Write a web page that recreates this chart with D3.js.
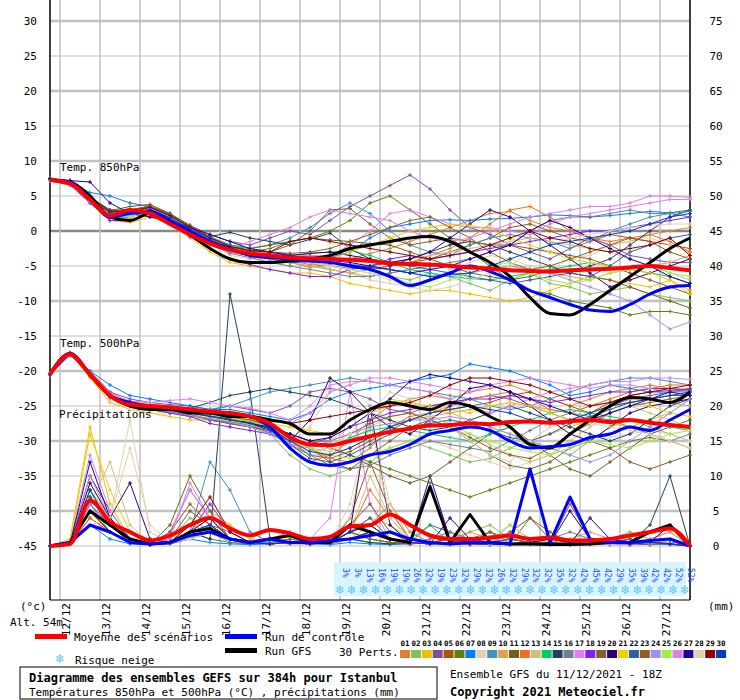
<!DOCTYPE html>
<html><head><meta charset="utf-8">
<script src="https://cdn.jsdelivr.net/npm/d3@7"></script>
<style>body{margin:0;background:#fff}text{font-family:"DejaVu Sans Mono",monospace}</style>
</head><body>
<script>
// GEFS ensemble, Istanbul, run 11/12/2021 18Z - values every 12h (0..384h)
const hours = d3.range(0, 385, 12);
const days = ["12/12","13/12","14/12","15/12","16/12","17/12","18/12","19/12","20/12","21/12","22/12","23/12","24/12","25/12","26/12","27/12"];
const memberColors = ["#e08030","#80c060","#f0c000","#8050a0","#b05010","#608010","#0080ff","#e0d0b0","#4090c0","#e0a050","#706020","#f07020","#d0c080","#00d060","#204060","#708090","#e080f0","#8020f0","#806030","#300070","#f0d000","#3060a0","#906020","#a090f0","#a0f040","#e080e0","#2000a0","#e0d0b0","#900000","#0040c0"];

const meanT850 = [7.3,6.8,4.5,2.2,3.0,2.5,1.0,-0.5,-1.8,-2.7,-3.2,-3.5,-3.8,-3.9,-4.0,-4.1,-4.3,-4.6,-4.7,-4.8,-5.0,-5.2,-5.4,-5.6,-5.7,-5.8,-5.6,-5.5,-5.4,-5.2,-5.0,-5.3,-5.6];
const ctrlT850 = [7.3,7.0,4.5,2.0,2.5,2.8,1.5,0,-1.5,-2.5,-3.5,-3.8,-4.0,-4.3,-4.5,-5.0,-5.5,-6.5,-7.8,-7.0,-6.0,-5.0,-5.8,-7.0,-8.5,-9.5,-10.5,-11.3,-11.5,-10.5,-9.0,-8.0,-7.8];
const gfsT850 = [7.3,7.0,5.0,2.0,1.5,2.5,1.5,-0.5,-2.5,-4.0,-4.5,-4.5,-4.3,-4.0,-3.5,-2.5,-2.0,-1.5,-1.0,-0.8,-1.5,-3.0,-4.5,-6.5,-9.5,-11.8,-12.0,-10.5,-8.5,-6.5,-4.5,-2.5,-1.0];
const meanT500 = [-20.5,-17.6,-20.5,-23.5,-24.8,-25.0,-25.2,-25.5,-25.8,-26.0,-26.5,-27.5,-29.5,-30.5,-30.6,-30.0,-29.3,-28.7,-28.2,-27.8,-27.7,-27.5,-27.6,-27.3,-27.2,-27.4,-27.2,-27.0,-27.3,-27.0,-27.4,-27.7,-28.0];
const ctrlT500 = [-20.5,-17.5,-20.5,-23.5,-24.5,-25.0,-25.2,-25.5,-25.8,-26.0,-26.5,-28.0,-31.0,-33.0,-33.5,-33.0,-32.0,-31.5,-30.5,-29.0,-28.5,-28.0,-28.5,-30.0,-31.0,-30.8,-30.5,-29.5,-29.0,-28.0,-28.5,-27.0,-25.5];
const gfsT500 = [-20.5,-17.5,-20.5,-23.5,-25,-25.5,-25.5,-26,-26,-26.5,-26.5,-27,-27.5,-29,-29,-27,-25.5,-24.5,-25,-25.5,-24.5,-25,-26.5,-28,-30.5,-31,-29,-27,-25,-23.8,-24,-24.5,-23];
const meanPrec = [0,0.3,6.5,3.5,2.0,0.8,1.5,3.0,4.0,2.5,1.5,2.3,1.8,1.0,1.3,2.8,3.0,4.5,3.0,1.5,1.0,1.0,1.2,1.5,1.0,1.2,0.8,0.8,1.0,1.5,2.0,2.5,0];
const ctrlPrec = [0,0.5,3,2,0.5,0.3,0.5,1.5,2,1,0.5,1,0.5,0.5,0.8,1.0,1.5,2.0,1.0,0.5,0.3,0.5,0.5,0.3,11,0.5,7,1,0.5,0.5,0.8,1,0];
const gfsPrec = [0,0.5,5,3,1,0.3,0.5,2,2.5,1,0.5,1,1.5,0.5,0.5,3,2,1,0.5,8.5,0.5,4.5,0.5,0.3,0.3,0.2,0.2,0.3,0.5,0.5,2,3,0];

const membersT850 = [
"7.4 6.8 4.2 2.5 2.8 3.2 1.8 0.2 -1.5 -2.8 -3.5 -3.8 -4.5 -5.2 -4.8 -4 -3.2 -2.5 -1.5 -0.5 0.5 1.5 2.5 2.8 1.5 0.5 0 -1 -2 -1.5 -0.5 0 0.5",
"7.2 6.5 4.8 2.2 2 2.8 1.5 0 -1.8 -3 -3.2 -3.6 -4 -4.5 -5.5 -6 -5.5 -6.5 -7 -6 -6.5 -7.5 -8.5 -7 -6 -7.5 -8 -9 -8.5 -8 -9 -9.5 -10",
"7.5 7 4 1.5 1.2 2 1 -1 -3 -4.5 -5 -5.5 -6 -6 -6.5 -7.5 -8 -8.5 -9 -8.5 -8.5 -9 -9.5 -10 -9.5 -8.5 -7.5 -6.5 -7 -7.5 -8 -7 -8.5",
"7.3 7 4.8 3 2.8 3.5 2.2 0.8 -0.5 -1.5 -2 -1 0 -0.5 1.5 3.5 5 6.5 8 6 3 0.5 -0.5 -2 -3 -4 -2.5 -1 -2 -3.5 -4 -4.5 -4.5",
"7.4 6.8 4.4 2.6 2.6 3 2 0.4 -1 -2.2 -3 -3.4 -3.8 -4 -4.5 -5 -5.5 -5 -4.5 -4 -3 -2 -1 0.5 1 0 -1 -1.5 -0.5 -1 -1.5 -2 -2.5",
"7.5 7.2 4.6 2.8 3 3.4 2.4 0.6 -1.2 -2.4 -3 -2.5 -1.5 -1 0 1.5 4 5 3 1 -1 -3 -5 -7 -8.5 -9 -10 -10.5 -11 -12 -11.5 -11.5 -12",
"7.2 6.9 5.5 5 4 3.5 2.5 0.5 -1 -2 -2.8 -3 -3.3 -3.5 -3.8 -3 -1 0.5 1 1.5 1.6 1.5 1.7 1.8 2 2.3 2.2 2 2.2 2.5 2.8 2.6 3",
"7.2 6.6 4 2 1.8 2.5 1.2 -0.5 -2 -3.5 -4 -4.2 -4.5 -5 -5.5 -6 -7 -7.5 -8 -7 -5.5 -4.5 -3.5 -4 -5 -5.5 -4 -3.5 -2 -1.5 -1 -2 -3",
"7.6 7.1 4.9 3 2.7 3.3 2.1 0.5 -0.8 -2 -2.5 -2 -1 0.5 2.5 4 2.5 0 -2 -3 -3.5 -2 -1 -0.5 -1 -1.5 -2.5 -1.5 0 1 2 2.5 2",
"7.3 6.7 4.3 2.3 2.2 2.9 1.6 0 -1.5 -2.8 -3.3 -4 -4.5 -5 -5.5 -6 -6.5 -6 -5.5 -5 -4.8 -5 -5.5 -5 -5.5 -6 -6.5 -7 -6 -5.5 -5 -4.5 -3.5",
"7.5 7 4.7 2.9 3.5 3.8 2.5 0.8 -1 -2 -2.5 -2 -1.5 -1 -1.3 -1.5 -1.8 -2 -3 -4 -5 -6 -6.5 -7 -6.5 -5.5 -6 -6.5 -7 -8 -9 -10 -11",
"7.2 6.6 4.5 2.7 2.4 3 1.8 0.3 -1.2 -2.6 -3.4 -3.8 -4.2 -4.8 -5 -5.3 -5.5 -5 -4.5 -3.5 -2.5 -1 1 3 3.5 2 0 -1 -1.5 -1 -0.5 -1.5 -3",
"7.3 6.8 4.4 2.4 2.3 3 1.7 0.1 -1.4 -2.7 -3.2 -3.6 -4 -4.4 -4.6 -4.8 -5 -4.5 -4 -3.5 -3 -2.5 -2 -1.5 -1 -1.5 -2 -2.5 -3 -4 -5 -6 -7",
"7.4 6.9 4.6 2.7 2.6 3.1 2 0.4 -1 -2 -2.5 -3 -3.5 -3.2 -3 -2.8 -3.5 -4.5 -5.5 -6 -6.5 -6.8 -7 -6.5 -6 -5.5 -5 -4.5 -5 -5.5 -6 -6.5 -7.5",
"7.5 7.2 4.8 2.9 2.8 3.3 2.2 0.6 -0.8 -0.2 -1 -1.5 -2 -1.2 -0.3 -2.5 -4 -5 -4 -3 -2 -1.5 -2 -3 -4 -5 -6 -5 -4 -2 0 2 3",
"7.3 6.7 4.3 2.4 2.2 2.8 1.6 -0.2 -1.8 -3.2 -3.8 -4.5 -5 -5.5 -6 -6.5 -6.5 -6 -5.5 -5 -4.5 -4 -3 -2 0 1.5 2 2 2.5 3 2.5 2.5 2.8",
"7.4 6.9 4.6 2.6 2.5 3.2 1.9 0.3 -1.1 -2.4 -3 -3.2 -3.4 -3.5 -3.6 -2 0 2.5 3 2 1 0.5 0.5 0 -0.5 1 2 2.5 3 3.5 4 4.5 4.5",
"7.2 6.6 4 1.5 1.5 2.5 1.2 -0.8 -2.5 -4 -4.8 -5.5 -6 -6.5 -6.5 -5.5 -5 -4 -3.5 -4 -3.5 -3 -2.5 -2 -1.5 -1 -0.5 0 0 0.5 1 1.5 2",
"7.5 7.1 4.8 3 3 3.6 2.4 0.7 -0.9 -2.2 -2.8 -3 -2 0 3 3.2 1 -1 -2 -1.5 -1 -1.5 -2 -2 -2.5 -3 -3.5 -4 -5 -6 -7 -8 -9",
"7.4 7 4.5 2.5 2.5 3.1 1.9 0.3 -1.2 -2.5 -3.1 -3.4 -3.5 -3.2 -3 -3.5 -4 -4.5 -4 -3 -1 1 3 2 0 -2 -4 -6 -8 -7 -6 -5 -4",
"7.3 6.8 4.5 2.6 2.4 3 1.8 0.2 -1.3 -2.6 -3.2 -3.5 -3.8 -4 -4 -3 -2 -1 0 0.5 1 0.8 0.3 -1 -2 -3 -4 -4.5 -5 -5.5 -6 -7 -9",
"7.5 7 4.5 2 2 3 1.5 0 -1.5 -3 -3.5 -4 -4.5 -4.5 -5 -5.5 -5 -4.5 -5 -5.5 -6 -6.5 -7 -7.5 -7 -6.5 -6 -6.5 -5 -3 -2 -1 -0.5",
"7.4 6.9 4.6 2.8 3 3.5 2.2 0.5 -1 -2.3 -2.8 -3 -3.2 -3 -2.5 -1.5 -0.5 0.5 1.5 2 0.5 -1 -3 -4.5 -5.5 -5 -4 -3 -2 -1 -1.5 -3 -4",
"7.3 6.7 4.2 2.2 2 2.7 1.4 -0.3 -1.8 -3 -3.5 -3.8 -4 -4.2 -4.5 -4.8 -5 -5.5 -6 -6.5 -6.5 -6 -5.5 -5 -5.5 -6 -7 -8 -9 -10 -12 -14 -13",
"7.5 7 4.8 2.5 2 2.8 1.8 0.2 -1.3 -2.5 -3 -3.5 -4 -4.5 -5 -5.5 -6 -6.5 -7.5 -8 -7 -6 -5 -4.5 -6 -7 -7.5 -7 -6 -5.5 -5 -6 -6.5",
"7.4 6.9 4.6 2.7 2.6 3.2 2 0.4 -1.1 -2.4 -1.5 -0.5 0.5 2 3 2.5 2 1.5 0 -1 -1.5 -1 0 1 2 2.5 3 3.5 3.5 4 5 5 4.8",
"7.4 7.2 7 4 2.5 2 1.5 0.5 -0.5 -1.5 -2.5 -3 -3.5 -4 -4.2 -4.5 -5 -5.5 -6 -5.5 -5 -4 -3 -2 0 1.5 0.5 -1 -2.5 -4 -5 -6.5 -7.5",
"7.3 6.8 4.4 2.4 2.2 3 1.7 0.1 -1.4 -2.7 -3.3 -3.8 -4.3 -4.5 -5 -5.5 -6 -7 -8 -8.5 -8 -7 -6 -5 -3 -2 -1 -0.5 0 0.5 0.8 1 1",
"7.5 7 4.7 2.8 2.8 3.4 2.2 0.5 -1 -2.2 -2.8 -3 -1.5 -1 -1.5 -2 -2.5 -3 -3.5 -4 -3.5 -3 -2 -1 0 -1 -1.5 -2.5 -3 -2.5 -2 -1 -3.5",
"7.4 7 4.5 2.6 2.5 3.1 1.9 0.3 -1.2 -2.5 -3.1 -3.5 -3.8 -4.2 -4.5 -4.8 -5.2 -5.5 -6 -6.5 -6.2 -6 -5 -4 -3 -2 -1.5 -1 -0.5 0 1 2 2.5"];

const membersT500 = [
"-20.4 -17.6 -20 -23 -24.5 -25 -25.2 -25.8 -26 -26.5 -27 -28 -31 -33 -32 -30 -27 -25 -24 -23.5 -24 -23 -22.5 -22 -23 -24 -25 -24 -23 -22.5 -22 -22.5 -23",
"-20.6 -17.4 -20.8 -24 -25 -25.5 -25.8 -26 -26.5 -27 -27.5 -29 -32 -34 -35 -34 -33 -31 -30 -31 -32 -33 -32.5 -31 -30 -31 -32 -30 -28 -27 -28 -29 -30",
"-20.5 -17.5 -21 -24.5 -25.5 -26 -26.5 -27 -27 -27.5 -28 -28.5 -30 -31 -30 -28 -26 -25 -24.5 -25.5 -26 -27 -28 -29 -30 -29 -28 -27 -27.5 -28 -27 -26 -24",
"-20.3 -17.6 -20.2 -23 -24 -24.5 -24.8 -25 -25.5 -25 -25.5 -26 -25 -23 -22.5 -23 -24 -25.5 -26 -25 -24.5 -24 -23.5 -24 -25 -26 -27 -26 -25 -24 -23.5 -23 -22.5",
"-20.5 -17.5 -20.6 -23.6 -24.8 -25.2 -25.5 -26 -26.3 -26.8 -27.2 -28 -30 -32 -32.5 -31.5 -30 -28.5 -27 -26 -25.5 -25 -24.5 -23.5 -23 -24 -25 -26 -24.5 -23.5 -23 -22.8 -22.5",
"-20.5 -17.5 -20.5 -23.8 -25 -25.5 -26 -26.5 -27 -27.3 -27.6 -28 -29 -30 -31 -32 -33 -34 -35 -36 -37 -38 -37 -36 -35 -34 -33 -32 -31 -30 -29.5 -30 -31",
"-20.5 -17.8 -20 -22 -23.5 -24 -24.5 -25 -25.5 -25.5 -26 -26.5 -27 -26 -24 -23 -22.5 -22 -21.5 -21 -20.5 -19 -19.5 -20 -21 -22 -23.5 -23 -22 -22.5 -23 -23 -22.8",
"-20.4 -17.4 -20.5 -24 -25.5 -26 -26 -26.5 -27 -27.5 -28 -29 -31 -28 -23 -22 -25 -27 -29 -30 -31 -32 -33 -34 -33 -32 -31 -30 -29.5 -29 -28.5 -29 -30",
"-20.5 -17.5 -20.5 -23.5 -24.5 -25 -25.5 -26 -25.5 -25 -24 -23 -22.5 -22 -21.5 -21 -21.5 -22 -22.5 -23 -23.5 -24 -25 -25.5 -25 -24 -23 -22 -21.5 -21 -21 -21.5 -22",
"-20.6 -17.6 -20.4 -23.4 -24.6 -25.2 -25.6 -26 -26.4 -26.8 -27.4 -28.5 -30.5 -32 -32 -31 -29.5 -28 -27 -26.5 -26 -25.5 -25 -24.5 -25 -25.5 -26 -25 -24.5 -24 -24 -24.5 -25",
"-20.5 -17.4 -20.6 -23.6 -24.8 -25.3 -25.7 -26.2 -27 -27.5 -28 -28.5 -29 -30 -31 -32 -33.5 -35 -36 -35 -33 -31 -29 -28 -30 -32 -34 -35 -33 -31 -29 -28 -27",
"-20.4 -17.6 -20.4 -23.4 -24.6 -25 -25.3 -25.8 -26.2 -26.6 -27 -28 -29.5 -31 -32.5 -33 -31 -28 -26.5 -26 -25 -24 -23.5 -23 -24 -25.5 -26 -25 -24 -23 -22.5 -22 -22",
"-20.5 -17.5 -20.5 -23.5 -24.5 -25 -25.4 -25.8 -26.2 -26.7 -27.2 -28 -29.5 -31 -31.5 -30 -28 -26.5 -26 -26.5 -27.5 -29 -30.5 -32 -33 -32 -30 -28 -26 -25 -26 -27 -28",
"-20.5 -17.5 -20.5 -23.5 -24.6 -25.1 -25.5 -25.9 -26.3 -26.8 -27.3 -28.2 -30 -31.5 -31 -29.5 -28.5 -28 -28.5 -29 -29.5 -30 -29 -28 -27 -26 -25.5 -26 -26.5 -27 -27.5 -28 -28.5",
"-20.5 -17.5 -20.5 -23.5 -24.5 -24.8 -25 -25.3 -24.5 -23.5 -23 -22.5 -23 -23.5 -24 -25 -26 -27 -28 -28.5 -28 -27 -26 -25 -26 -27 -28 -29 -30 -29 -27 -25 -24",
"-20.5 -17.5 -20.5 -23.5 -24.7 -25.3 -25.8 -26.4 -26.8 -27.2 -27.8 -28.8 -30.5 -32 -33.5 -34 -33.5 -32 -31 -30 -30.5 -31 -31.5 -30 -28.5 -27 -26 -26.5 -27 -28 -29 -30 -29",
"-20.4 -17.6 -20.3 -23.2 -24.3 -24.5 -24.2 -24 -24.5 -25 -25.3 -26 -27 -25 -22 -21.5 -21.5 -22 -22.5 -23 -24 -25 -26 -25 -24 -23 -22.5 -22 -21.5 -21.5 -21 -21 -21.2",
"-20.5 -17.5 -20.7 -23.8 -25 -25.5 -26 -26.5 -27.5 -28 -28.5 -29 -30 -30.5 -29.5 -28 -27 -26 -25.5 -25 -24.5 -24 -24 -23.5 -24 -24.5 -24 -23.5 -23 -23 -22.5 -22.5 -22.7",
"-20.5 -17.5 -20.5 -23.5 -24.5 -25 -25.5 -26 -27 -27.5 -28 -28.5 -29 -31 -33 -34 -32 -30 -28 -27 -28 -30 -32 -33.5 -34 -33 -31 -30 -31 -33 -34 -33 -32",
"-20.5 -17.5 -20.5 -23.5 -24.6 -25.1 -25.5 -26 -26.4 -26.9 -27.4 -28.3 -30 -27 -21 -23 -26 -28 -29 -27 -25 -22.5 -22 -23 -25 -27 -29 -30 -28 -26 -25 -24.5 -24",
"-20.5 -17.5 -20.5 -23.5 -24.5 -25 -25.5 -26 -26.5 -27 -27 -27.5 -28 -28.5 -29 -27 -25.5 -24 -24.5 -25 -25.5 -26 -25 -24.5 -25 -26 -27 -26 -25 -24.5 -25 -26 -26.5",
"-20.5 -17.5 -20.5 -23.5 -24.6 -25.2 -25.6 -26 -26.5 -27 -27.5 -28.5 -30.5 -32.5 -33 -32 -30.5 -29 -28 -27.5 -27 -27.5 -28.5 -29.5 -30 -29 -27.5 -26.5 -25.5 -24.5 -24 -23.5 -23.5",
"-20.5 -17.5 -20.5 -23.5 -24.5 -25 -25.4 -25.8 -26.2 -26.6 -27 -27.8 -29 -30 -30 -29 -27.5 -26.5 -26 -27 -28 -29.5 -31 -32 -32.5 -31 -29 -27.5 -26 -25 -24.5 -24 -23.5",
"-20.5 -17.5 -20.5 -23.5 -24.7 -25.2 -25.7 -26.3 -26.8 -27.3 -28 -29 -30.5 -31 -30 -29 -28 -27.5 -27 -27 -26.5 -27 -28 -29 -30 -31 -32 -33 -32 -30 -28 -26 -24",
"-20.5 -17.5 -20.5 -23.5 -24.5 -25 -25.5 -26 -26.3 -26.7 -27.2 -28 -29.5 -31 -32 -32.5 -32 -31 -30 -29 -28.5 -29 -30 -31 -31.5 -32 -31 -30 -30.5 -31 -30 -29 -28.5",
"-20.5 -17.5 -20.5 -23.5 -24.5 -24.8 -25 -25.3 -25.8 -26.2 -26.5 -27 -27.5 -26 -23 -22 -21 -21 -21.5 -22 -22.5 -23 -22 -21.5 -21 -21.5 -22 -22.5 -22 -22 -22.5 -23 -23",
"-20.5 -17.5 -20.5 -23.5 -24.5 -25 -25.5 -26 -26.5 -27 -27.5 -28 -29 -30 -29.5 -28 -26 -24 -21.5 -20.5 -21 -21.5 -22 -23 -24 -25 -26 -27 -26 -25 -24 -23 -23.5",
"-20.5 -17.5 -20.5 -23.5 -24.6 -25.1 -25.6 -26.1 -26.6 -27.1 -27.6 -28.5 -30 -31.5 -31 -29 -26 -23 -24 -26 -28 -30 -32 -33 -30 -28 -27 -27.5 -28 -28.5 -29 -30 -31",
"-20.5 -17.5 -20.5 -23.5 -24.5 -25 -25.4 -25.8 -26 -26.3 -26.6 -27 -27.5 -27 -26.5 -26 -25.5 -25 -24.5 -23.5 -22 -21 -21 -21.5 -22 -23 -24 -25 -24.5 -23.5 -23 -22.5 -22",
"-20.5 -17.5 -20.5 -23.5 -24.5 -25 -25.5 -26 -26.5 -27 -27.5 -28.5 -30 -31.5 -32 -31 -29.5 -28 -27 -26 -25.5 -25 -25.5 -26 -27 -27.5 -27 -26 -25 -24.5 -24 -23.5 -23"];

const membersPrec = [
"0 0.5 8 4 1 0.3 0.5 2 3 1 0.5 1 2 0.5 0.3 2 3 6 2 0.5 0.3 1 0.5 0.3 0.2 0.5 1 0.5 0.3 0.2 1 2 0",
"0 0.3 5 2 0.5 0.2 1 4 2 0.5 0.3 0.5 1 0.5 1 3 2 1 0.5 0.3 0.5 2 3 1 0.5 0.3 0.2 0.5 1 2 1 0.5 0",
"0 1 17 6 1 0.2 0.3 2 5 3 1 0.5 0.3 0.2 0.5 2 4 3 1 0.5 0.3 0.2 0.5 1 0.5 0.3 0.2 0.3 0.5 0.3 0.2 0.5 0",
"0 0.5 6 3 0.5 0.2 2 8 4 1 0.5 0.3 0.5 1 0.5 1 2 1 0.5 3 2 0.5 0.3 0.2 0.5 1 0.5 0.3 0.2 1 0.5 0.3 0",
"0 0.3 4 2 0.5 0.3 0.5 1 3 2 0.5 1 1.5 0.5 0.3 4 12 5 1 0.5 0.3 0.2 0.3 0.5 0.3 0.2 0.3 0.5 0.2 0.3 0.5 1 0",
"0 0.5 7 3 1 0.2 0.5 2 1 0.5 0.3 0.5 1 0.5 0.3 1 2 1 0.5 0.3 0.5 1 2 0.5 0.3 0.2 0.5 1 0.5 0.3 0.2 0.3 0",
"0 0.4 3 1 0.3 0.2 0.5 1 0.5 0.3 0.2 0.3 0.5 0.3 0.2 0.5 0.3 0.2 0.3 0.5 0.2 0.3 0.2 0.2 0.3 0.2 0.2 0.3 0.2 0.2 0.3 0.2 0",
"0 0.5 9 4 18 2 0.5 1 2 1 0.5 0.3 0.5 0.3 1 4 18 6 1 0.5 0.3 0.5 1 0.5 0.3 0.2 0.5 0.3 0.2 0.3 0.5 0.3 0",
"0 0.3 6 2 0.5 0.3 0.5 2 12 8 2 0.5 0.3 0.5 0.3 1 2 1 0.5 0.3 0.2 0.5 0.3 0.2 0.5 0.3 0.2 0.3 0.5 0.2 0.3 0.5 0",
"0 0.5 5 3 0.8 0.3 1 3 2 1 0.5 0.3 0.5 0.3 0.5 3 2 1 0.5 0.3 1 2 1 0.5 0.3 0.5 1 2 1 0.5 0.3 0.5 0",
"0 0.4 7 3 0.5 0.2 3 10 5 1 0.5 0.3 0.5 0.3 0.5 2 1 0.5 0.3 0.5 1 0.5 0.3 2 4 1 0.5 0.3 0.5 1 0.5 0.3 0",
"0 0.5 4 2 0.5 0.2 0.5 2 4 1 0.5 0.3 0.5 1 0.5 2 8 4 1 0.5 0.3 0.2 0.5 1 0.5 0.3 0.2 0.3 0.5 0.3 0.2 0.5 0",
"0 0.3 6 12 3 0.5 0.3 1 2 1 0.5 0.3 0.5 0.3 0.5 2 10 4 1 0.5 0.3 0.5 1 0.5 0.3 0.2 0.3 0.5 0.3 0.2 0.5 1 0",
"0 0.5 8 3 1 0.3 0.5 3 4 1 0.5 0.3 0.5 0.3 0.5 1 0.5 0.3 1 3 0.5 0.3 0.5 1 0.5 0.3 0.2 0.5 1 0.5 0.3 0.5 0",
"0 0.5 10 5 1 0.3 0.5 2 1 36 22 1 0.5 0.3 0.5 1 0.5 0.3 0.5 0.3 0.5 0.3 0.2 0.5 0.3 0.2 0.5 0.3 0.2 0.5 3 10 0",
"0 0.3 5 2 0.5 0.2 0.3 1 3 1 0.5 0.3 0.5 0.3 0.5 2 1 0.5 0.3 1 2 1 0.5 0.3 0.5 1 2 1 0.5 0.3 0.5 0.3 0",
"0 0.5 13 5 1 0.3 2 8 4 1 0.5 0.3 0.5 1 4 22 6 1 0.5 0.3 0.5 1 0.5 3 1 0.5 0.3 0.5 0.3 0.2 0.5 0.3 0",
"0 0.4 6 3 0.5 0.2 0.5 2 6 2 0.5 0.3 0.5 0.3 0.5 1 2 1 0.5 0.3 0.5 0.3 0.5 1 0.5 0.3 0.2 0.5 0.3 0.2 0.5 0.3 0",
"0 0.3 5 2 0.5 0.2 1 5 3 1 0.5 0.3 0.5 0.3 0.5 3 6 2 0.5 0.3 0.5 1 0.5 0.3 4 2 0.5 0.3 0.5 1 0.5 0.3 0",
"0 0.5 9 4 9 1 0.5 1 2 1 0.5 0.3 0.5 0.3 0.5 2 20 3 0.5 0.3 4 1 0.5 0.3 0.5 0.3 5 1 0.5 0.3 0.5 3 0",
"0 0.5 16 8 2 0.3 0.5 1 2 1 0.5 0.3 0.5 0.3 0.5 1 3 1 0.5 0.3 0.5 0.3 0.5 0.3 0.2 0.5 0.3 0.2 0.5 0.3 0.2 0.5 0",
"0 0.4 7 3 0.5 0.2 0.5 2 3 1 0.5 0.3 0.5 0.3 0.5 2 4 1 0.5 0.3 0.5 1 0.5 0.3 0.5 1 0.5 0.3 0.5 0.3 0.2 0.5 0",
"0 0.3 5 2 0.5 0.2 2 6 3 1 0.5 0.3 0.5 0.3 0.5 2 1 0.5 0.3 0.5 1 0.5 2 1 0.5 0.3 6 1 0.5 0.3 0.5 0.3 0",
"0 0.5 6 3 0.5 0.2 0.5 2 3 1 0.5 0.3 0.5 0.3 0.5 1 2 1 0.5 0.3 0.5 0.3 0.5 0.3 0.2 0.5 0.3 0.2 0.5 0.3 0.5 1 0",
"0 0.5 5 2 0.5 0.3 0.5 1 2 1 0.5 0.3 0.5 0.3 0.5 1 2 1 0.5 0.3 0.5 0.3 1 3 1 0.5 0.3 1 0.5 0.3 0.5 1 0",
"0 0.5 10 4 1 0.3 1 9 4 1 0.5 0.3 0.5 1 0.5 2 3 1 0.5 0.3 0.5 0.3 0.5 0.3 0.5 0.3 0.2 0.5 0.3 0.2 0.5 0.3 0",
"0 0.3 12 4 1 0.3 0.5 2 4 1 0.5 0.3 0.5 0.3 0.5 1 2 1 0.5 10 1 0.5 0.3 0.5 0.3 0.5 0.3 4 1 0.5 0.3 0.5 0",
"0 0.5 3 4 14 3 0.5 1 2 1 0.5 0.3 0.5 0.3 0.5 6 18 4 1 0.5 0.3 0.5 0.3 0.5 0.3 0.2 0.5 0.3 0.2 0.5 0.3 0.5 0",
"0 0.4 5 2 0.5 0.2 0.5 3 7 2 0.5 0.3 0.5 0.3 0.5 2 3 1 0.5 0.3 0.5 0.3 0.5 0.3 0.5 1 0.5 0.3 0.5 0.3 0.5 0.3 0",
"0 0.5 8 3 0.5 0.2 0.5 2 3 1 0.5 0.3 0.5 0.3 0.5 2 3 1 0.5 0.3 0.5 0.3 0.5 0.3 0.5 0.3 0.5 0.3 0.5 0.3 0.5 0.3 0"];

const snowPct = [3,3,13,16,19,19,26,32,19,23,32,29,32,26,32,29,32,32,35,32,42,45,42,29,35,39,42,42,52,52];
const leftTicks = d3.range(-45, 31, 5);
const rightTicks = d3.range(0, 76, 5);

const parse = s => s.split(" ").map(Number);
const W = 740, H = 700;
const svg = d3.select("body").append("svg").attr("width", W).attr("height", H);

const x = d3.scaleLinear().domain([0, 384]).range([50, 690]);
const y = d3.scaleLinear().domain([-45, 30]).range([546, 21]);
const yMm = d3.scaleLinear().domain([0, 75]).range([546, 21]);

// grid
svg.append("g").selectAll("line").data(leftTicks).join("line")
  .attr("x1", 50).attr("x2", 690).attr("y1", d => y(d)).attr("y2", d => y(d))
  .attr("stroke", d => d === 0 ? "#888" : "#c0c0c0")
  .attr("stroke-width", d => d % 10 === 0 ? 2.5 : 1.2);
svg.append("g").selectAll("line").data(days).join("line")
  .attr("x1", (d, i) => x(6 + 24 * i)).attr("x2", (d, i) => x(6 + 24 * i))
  .attr("y1", 0).attr("y2", 600).attr("stroke", "#c0c0c0").attr("stroke-width", 1.5);

// frame
svg.append("line").attr("x1", 50).attr("x2", 50).attr("y1", 0).attr("y2", 600).attr("stroke", "#000").attr("stroke-width", 1.5);
svg.append("line").attr("x1", 690).attr("x2", 690).attr("y1", 0).attr("y2", 600).attr("stroke", "#000").attr("stroke-width", 1.5);
svg.append("line").attr("x1", 50).attr("x2", 690).attr("y1", 600).attr("y2", 600).attr("stroke", "#000").attr("stroke-width", 1);

// tick labels
svg.append("g").selectAll("text").data(leftTicks).join("text")
  .attr("x", 37).attr("y", d => y(d) + 4).attr("text-anchor", "end").attr("font-size", 11).text(d => d);
svg.append("g").selectAll("text").data(rightTicks).join("text")
  .attr("x", 716).attr("y", d => yMm(d) + 4).attr("text-anchor", "middle").attr("font-size", 11).text(d => d);
svg.append("g").selectAll("text").data(days).join("text")
  .attr("transform", (d, i) => `translate(${x(6 + 24 * i) + 10},603) rotate(-90)`)
  .attr("text-anchor", "end").attr("font-size", 11).text(d => d);

// series
const lineT = d3.line().x((d, i) => x(hours[i])).y(d => y(d));
const lineP = d3.line().x((d, i) => x(hours[i])).y(d => yMm(d));
const smoothT = d3.line().curve(d3.curveMonotoneX).x((d, i) => x(hours[i])).y(d => y(d));
const smoothP = d3.line().curve(d3.curveMonotoneX).x((d, i) => x(hours[i])).y(d => yMm(d));

function drawMember(vals, gen, sc, col) {
  const g = svg.append("g");
  g.append("path").attr("d", gen(vals)).attr("fill", "none").attr("stroke", col).attr("stroke-width", 1);
  g.selectAll("path.m").data(vals).join("path").attr("class", "m")
    .attr("d", (d, i) => { const px = x(hours[i]), py = sc(d); return `M${px - 2},${py}H${px + 2}M${px},${py - 2}V${py + 2}`; })
    .attr("stroke", col).attr("stroke-width", 1);
}
membersPrec.forEach((s, k) => drawMember(parse(s), lineP, yMm, memberColors[k]));
membersT500.forEach((s, k) => drawMember(parse(s), lineT, y, memberColors[k]));
membersT850.forEach((s, k) => drawMember(parse(s), lineT, y, memberColors[k]));

const thick = (vals, gen, col, w) => svg.append("path").attr("d", gen(vals)).attr("fill", "none")
  .attr("stroke", col).attr("stroke-width", w).attr("stroke-linejoin", "round");
thick(gfsPrec, lineP, "#000", 3); thick(ctrlPrec, lineP, "#0000ff", 3); thick(meanPrec, smoothP, "#ff0000", 4);
thick(gfsT500, smoothT, "#000", 3); thick(ctrlT500, smoothT, "#0000ff", 3); thick(meanT500, smoothT, "#ff0000", 4);
thick(gfsT850, smoothT, "#000", 3); thick(ctrlT850, smoothT, "#0000ff", 3); thick(meanT850, smoothT, "#ff0000", 4);

// labels in plot
const lbl = (tx, px, py, opt = {}) => svg.append("text").attr("x", px).attr("y", py)
  .attr("font-size", opt.size || 11).attr("font-weight", opt.bold ? "bold" : null)
  .attr("text-anchor", opt.anchor || "start").text(tx);
lbl("Temp. 850hPa", 60, 171);
lbl("Temp. 500hPa", 60, 347);
lbl("Précipitations", 59, 418);

// snow risk row
svg.append("rect").attr("x", 334).attr("y", 562).attr("width", 352).attr("height", 34).attr("fill", "#d8f4ff");
svg.append("g").selectAll("text").data(snowPct).join("text")
  .attr("transform", (d, i) => `translate(${343 + i * 11.9},568) rotate(90)`)
  .attr("font-size", 8).attr("fill", "#2050ff").text(d => d + "%");
svg.append("g").selectAll("text").data(snowPct).join("text")
  .attr("x", (d, i) => 340 + i * 11.9).attr("y", 594).attr("text-anchor", "middle")
  .attr("font-size", 12).attr("fill", "#60c8f0").style("font-family", "DejaVu Sans").text("❄");

lbl("(°c)", 20, 610); lbl("(mm)", 708, 610); lbl("Alt. 54m", 10, 626);

// legend
svg.append("rect").attr("x", 35).attr("y", 634).attr("width", 32).attr("height", 5).attr("fill", "#ff0000");
lbl("Moyenne des scénarios", 74, 641);
svg.append("rect").attr("x", 225).attr("y", 634).attr("width", 32).attr("height", 5).attr("fill", "#0000ff");
lbl("Run de contrôle", 265, 641);
svg.append("rect").attr("x", 225).attr("y", 648).attr("width", 32).attr("height", 5).attr("fill", "#000");
lbl("Run GFS", 265, 655);
svg.append("text").attr("x", 60).attr("y", 663).attr("text-anchor", "middle").attr("font-size", 12)
  .attr("fill", "#60c8f0").style("font-family", "DejaVu Sans").text("❄");
lbl("Risque neige", 75, 664);
lbl("30 Perts.", 339, 656);
svg.append("g").selectAll("text").data(memberColors).join("text")
  .attr("x", (d, i) => 405 + i * 10.9).attr("y", 646).attr("text-anchor", "middle")
  .attr("font-size", 7.5).attr("font-weight", "bold").text((d, i) => String(i + 1).padStart(2, "0"));
svg.append("g").selectAll("rect").data(memberColors).join("rect")
  .attr("x", (d, i) => 400 + i * 10.9).attr("y", 650).attr("width", 10).attr("height", 8).attr("fill", d => d);

// title box
svg.append("rect").attr("x", 20).attr("y", 667).attr("width", 417).attr("height", 32)
  .attr("fill", "none").attr("stroke", "#000").attr("stroke-width", 1);
lbl("Diagramme des ensembles GEFS sur 384h pour Istanbul", 29, 682, { bold: true, size: 12 });
lbl("Températures 850hPa et 500hPa (°C) , précipitations (mm)", 29, 696, { size: 11 });
lbl("Ensemble GFS du 11/12/2021 - 18Z", 450, 678);
lbl("Copyright 2021 Meteociel.fr", 450, 696, { bold: true, size: 12 });
</script>
</body></html>
